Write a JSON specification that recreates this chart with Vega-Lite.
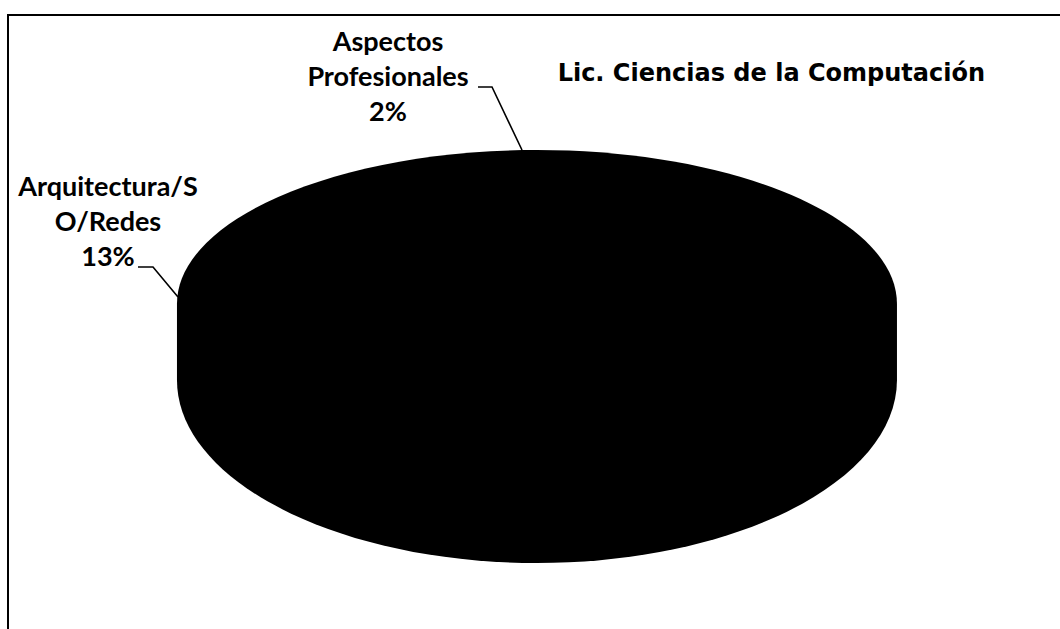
{
  "$schema": "https://vega.github.io/schema/vega-lite/v6.json",
  "width": 1056,
  "height": 618,
  "autosize": {"type": "none"},
  "padding": {"left": 8, "top": 15, "right": -4, "bottom": -4},
  "background": "white",
  "view": {"stroke": "black", "strokeWidth": 2, "fill": "white"},
  "config": {"view": {"stroke": "black", "strokeWidth": 2}},
  "title": {
    "text": "Lic. Ciencias de la Computación",
    "anchor": "end",
    "frame": "group",
    "orient": "top",
    "offset": 0,
    "dx": -79,
    "dy": 90,
    "baseline": "alphabetic",
    "font": "DejaVu Sans",
    "fontSize": 24,
    "fontWeight": "bold",
    "color": "black"
  },
  "data": {
    "values": [
      {"area": "Arquitectura/SO/Redes", "pct": 13, "etiqueta": ["Arquitectura/S", "O/Redes", "13%"]},
      {"area": "Aspectos Profesionales", "pct": 2, "etiqueta": ["Aspectos", "Profesionales", "2%"]}
    ]
  },
  "layer": [
    {
      "transform": [{"aggregate": [{"op": "sum", "field": "pct", "as": "total"}]}],
      "mark": {
        "type": "point",
        "shape": "M -0.9973 -0.0556 A 1 0.4278 0 0 1 1.0027 -0.0556 L 1.0027 0.1555 A 1 0.5083 0 0 1 -0.9973 0.1555 Z",
        "size": 518400,
        "filled": true,
        "color": "black",
        "opacity": 1,
        "strokeWidth": 0
      },
      "encoding": {}
    },
    {
      "transform": [{"aggregate": [{"op": "sum", "field": "pct", "as": "total"}]}],
      "mark": {
        "type": "point",
        "shape": "M -0.58 -2.37 L -0.44 -2.37 L -0.14 -1.74 M -3.98 -0.57 L -3.83 -0.57 L -3.58 -0.27",
        "size": 40000,
        "filled": false,
        "color": "black",
        "opacity": 1,
        "strokeWidth": 1.6
      },
      "encoding": {}
    },
    {
      "mark": {
        "type": "text",
        "font": "Lato",
        "fontSize": 27,
        "fontWeight": "bold",
        "lineHeight": 35,
        "align": "center",
        "baseline": "middle",
        "color": "black"
      },
      "encoding": {
        "theta": {"field": "pct", "type": "quantitative", "stack": true, "scale": {"domain": [0, 15], "range": [4.3457, 5.9022]}},
        "radius": {"field": "pct", "type": "quantitative", "scale": {"type": "linear", "zero": false, "domain": [2, 13], "range": [317.6, 449.1]}},
        "detail": {"field": "area", "type": "nominal"},
        "text": {"field": "etiqueta"}
      }
    }
  ]
}
